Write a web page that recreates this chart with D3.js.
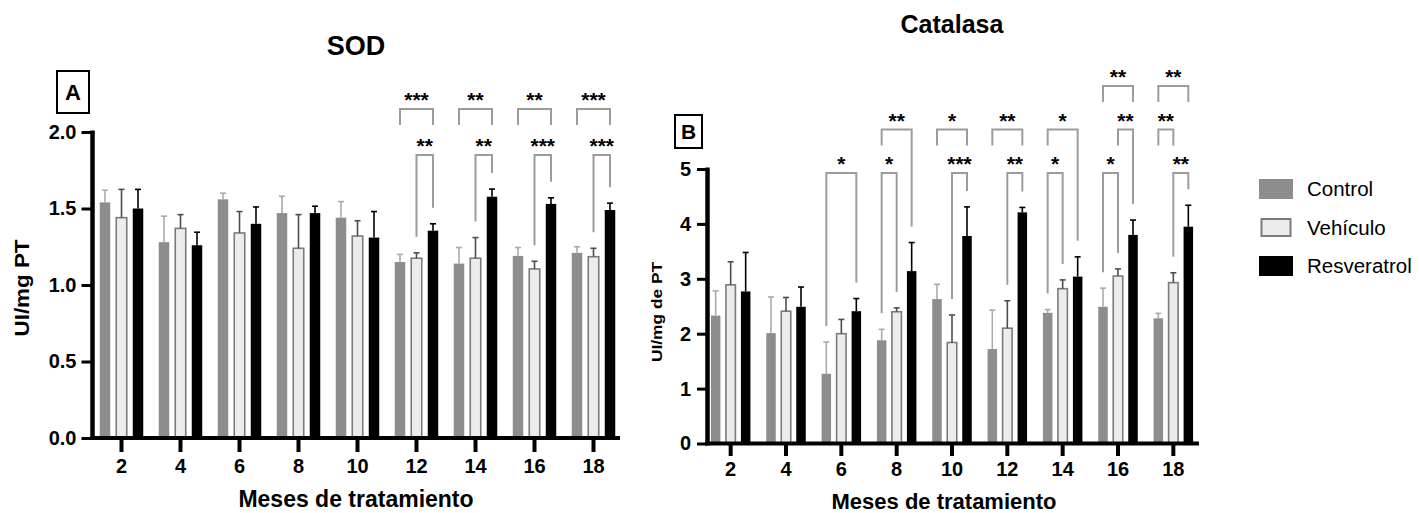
<!DOCTYPE html>
<html>
<head>
<meta charset="utf-8">
<script src="https://cdn.jsdelivr.net/npm/d3@7"></script>
<style>
    html, body { margin: 0; padding: 0; background: #fff; }
    svg { display: block; font-family: 'Liberation Sans', Arial, Helvetica, sans-serif; }
    .axis path, .axis line { stroke: #000; }
    .axis text { font-size: 20px; font-weight: bold; fill: #000; }
</style>
</head>
<body>
<svg id="chart" width="1419" height="513"></svg>
<script>
'use strict';

const months = [2, 4, 6, 8, 10, 12, 14, 16, 18];
const seriesNames = ['Control', 'Vehículo', 'Resveratrol'];

// SOD (UI/mg PT): means and upper error (SEM)
const sodControl = [1.54, 1.28, 1.56, 1.47, 1.44, 1.15, 1.14, 1.19, 1.21];
const sodControlErr = [0.08, 0.17, 0.04, 0.11, 0.105, 0.05, 0.105, 0.055, 0.04];
const sodVehiculo = [1.44, 1.37, 1.34, 1.24, 1.32, 1.175, 1.175, 1.105, 1.185];
const sodVehiculoErr = [0.185, 0.09, 0.14, 0.22, 0.10, 0.035, 0.135, 0.05, 0.055];
const sodResveratrol = [1.50, 1.26, 1.40, 1.47, 1.31, 1.355, 1.577, 1.53, 1.49];
const sodResveratrolErr = [0.125, 0.085, 0.11, 0.045, 0.17, 0.045, 0.05, 0.04, 0.045];

// Catalasa (UI/mg de PT)
const catControl = [2.33, 2.01, 1.27, 1.88, 2.63, 1.72, 2.38, 2.49, 2.28];
const catControlErr = [0.45, 0.66, 0.58, 0.20, 0.27, 0.71, 0.06, 0.34, 0.09];
const catVehiculo = [2.89, 2.41, 2.00, 2.40, 1.84, 2.10, 2.82, 3.05, 2.93];
const catVehiculoErr = [0.42, 0.25, 0.26, 0.07, 0.50, 0.50, 0.16, 0.13, 0.18];
const catResveratrol = [2.77, 2.49, 2.41, 3.14, 3.78, 4.21, 3.04, 3.80, 3.95];
const catResveratrolErr = [0.71, 0.36, 0.23, 0.52, 0.53, 0.09, 0.36, 0.27, 0.39];

const sodTicks = [0, 0.5, 1.0, 1.5, 2.0];
const catTicks = [0, 1, 2, 3, 4, 5];

// significance brackets: [month, from, to, level, label, long left leg, long right leg]
const sodSig = [
    [12, 'Control', 'Resveratrol', 2, '***', 0, 0],
    [12, 'Vehículo', 'Resveratrol', 1, '**', 1, 1],
    [14, 'Control', 'Resveratrol', 2, '**', 0, 0],
    [14, 'Vehículo', 'Resveratrol', 1, '**', 1, 1],
    [16, 'Control', 'Resveratrol', 2, '**', 0, 0],
    [16, 'Vehículo', 'Resveratrol', 1, '***', 1, 1],
    [18, 'Control', 'Resveratrol', 2, '***', 0, 0],
    [18, 'Vehículo', 'Resveratrol', 1, '***', 1, 1]
];
const catSig = [
    [6, 'Control', 'Resveratrol', 1, '*', 1, 1],
    [8, 'Control', 'Vehículo', 1, '*', 1, 1],
    [8, 'Control', 'Resveratrol', 2, '**', 0, 1],
    [10, 'Vehículo', 'Resveratrol', 1, '***', 1, 1],
    [10, 'Control', 'Resveratrol', 2, '*', 0, 0],
    [12, 'Vehículo', 'Resveratrol', 1, '**', 1, 1],
    [12, 'Control', 'Resveratrol', 2, '**', 0, 0],
    [14, 'Control', 'Vehículo', 1, '*', 1, 1],
    [14, 'Control', 'Resveratrol', 2, '*', 0, 1],
    [16, 'Control', 'Vehículo', 1, '*', 1, 1],
    [16, 'Vehículo', 'Resveratrol', 2, '**', 0, 1],
    [16, 'Control', 'Resveratrol', 3, '**', 0, 0],
    [18, 'Vehículo', 'Resveratrol', 1, '**', 1, 1],
    [18, 'Control', 'Vehículo', 2, '**', 0, 0],
    [18, 'Control', 'Resveratrol', 3, '**', 0, 0]
];

const fills = { 'Control': '#8d8d8d', 'Vehículo': '#ececec', 'Resveratrol': '#000' };
const strokes = { 'Control': 'none', 'Vehículo': '#7b7b7b', 'Resveratrol': 'none' };
const errColors = { 'Control': '#ababab', 'Vehículo': '#4d4d4d', 'Resveratrol': '#000' };

let svg = d3.select('#chart');

function drawPanel(p) {
    let g = svg.append('g');

    let x = d3.scaleBand().domain(months).range(p.xRange);
    let xSub = d3.scalePoint().domain(seriesNames).range([-p.step, p.step]);
    let y = d3.scaleLinear().domain(p.yDomain).range(p.yRange);

    let rows = [];
    seriesNames.forEach((s, si) => {
        months.forEach((m, i) => {
            rows.push({ series: s, month: m, value: p.values[si][i], err: p.errors[si][i] });
        });
    });
    let cx = d => x(d.month) + x.bandwidth() / 2 + xSub(d.series);

    // bars
    g.selectAll('.bar')
        .data(rows)
      .enter().append('rect')
        .attr('x', d => cx(d) - p.barW / 2)
        .attr('y', d => y(d.value))
        .attr('width', p.barW)
        .attr('height', d => y(0) - y(d.value))
        .attr('fill', d => fills[d.series])
        .attr('stroke', d => strokes[d.series])
        .attr('stroke-width', 1.6);

    // error bars (upper only)
    let eb = g.selectAll('.err').data(rows).enter().append('g')
        .attr('stroke', d => errColors[d.series])
        .attr('stroke-width', 1.6);
    eb.append('line')
        .attr('x1', cx).attr('x2', cx)
        .attr('y1', d => y(d.value)).attr('y2', d => y(d.value + d.err));
    eb.append('line')
        .attr('x1', d => cx(d) - 3).attr('x2', d => cx(d) + 3)
        .attr('y1', d => y(d.value + d.err)).attr('y2', d => y(d.value + d.err));

    // significance brackets
    let lookup = (s, m) => rows.find(r => r.series === s && r.month === m);
    p.sig.forEach(b => {
        let [m, from, to, level, label, longL, longR] = b;
        let a = lookup(from, m), c = lookup(to, m);
        let by = p.bracketBase - (level - 1) * p.bracketStep;
        let xa = cx(a), xc = cx(c);
        let ya = longL ? y(a.value + a.err) - 16 : by + 16;
        let yc = longR ? y(c.value + c.err) - 16 : by + 16;
        g.append('path')
            .attr('d', `M${xa},${ya}V${by}H${xc}V${yc}`)
            .attr('fill', 'none')
            .attr('stroke', '#9c9c9c')
            .attr('stroke-width', 2);
        g.append('text')
            .attr('x', (xa + xc) / 2)
            .attr('y', by - 2)
            .attr('text-anchor', 'middle')
            .style('font-size', '21px')
            .style('font-weight', 'bold')
            .text(label);
    });

    // axes
    let yAxis = g.append('g')
        .attr('class', 'axis')
        .attr('transform', `translate(${p.axisX},0)`)
        .call(d3.axisLeft(y).tickValues(p.yTicks).tickFormat(p.yFormat)
            .tickSize(p.yTickSize).tickPadding(p.yTickPad).tickSizeOuter(0));
    yAxis.select('.domain').remove();
    yAxis.selectAll('.tick line').attr('stroke-width', 3);
    yAxis.append('line')
        .attr('x1', 0).attr('x2', 0)
        .attr('y1', y(p.yDomain[1]) - 1.5).attr('y2', y(0) + 2)
        .attr('stroke', '#000').attr('stroke-width', 4.5);

    let xAxis = g.append('g')
        .attr('class', 'axis')
        .attr('transform', `translate(0,${y(0)})`)
        .call(d3.axisBottom(x).tickSize(p.xTickSize).tickPadding(p.xTickPad).tickSizeOuter(0));
    xAxis.select('.domain').remove();
    xAxis.selectAll('.tick line').attr('stroke-width', 4);
    xAxis.append('line')
        .attr('x1', p.axisX - 2).attr('x2', p.xAxisEnd)
        .attr('y1', 0).attr('y2', 0)
        .attr('stroke', '#000').attr('stroke-width', 4);

    // titles and labels
    g.append('text')
        .attr('x', p.title[1]).attr('y', p.title[2])
        .attr('text-anchor', 'middle')
        .style('font-size', p.title[3] + 'px').style('font-weight', 'bold')
        .text(p.title[0]);
    g.append('text')
        .attr('x', p.xLabel[1]).attr('y', p.xLabel[2])
        .attr('text-anchor', 'middle')
        .style('font-size', p.xLabel[3] + 'px').style('font-weight', 'bold')
        .text(p.xLabel[0]);
    g.append('text')
        .attr('transform', `translate(${p.yLabel[1]},${p.yLabel[2]}) rotate(-90)`)
        .attr('text-anchor', 'middle')
        .attr('dy', '0.35em')
        .attr('textLength', p.yLabel[4])
        .attr('lengthAdjust', 'spacingAndGlyphs')
        .style('font-size', p.yLabel[3] + 'px').style('font-weight', 'bold')
        .text(p.yLabel[0]);

    // panel letter box
    let bx = p.letterBox;
    g.append('rect')
        .attr('x', bx[1]).attr('y', bx[2]).attr('width', bx[3]).attr('height', bx[4])
        .attr('fill', '#fff').attr('stroke', '#000').attr('stroke-width', 2);
    g.append('text')
        .attr('x', bx[1] + bx[3] / 2).attr('y', bx[2] + bx[4] / 2)
        .attr('dy', '0.36em')
        .attr('text-anchor', 'middle')
        .style('font-size', bx[5] + 'px').style('font-weight', 'bold')
        .text(bx[0]);
}

drawPanel({
    values: [sodControl, sodVehiculo, sodResveratrol],
    errors: [sodControlErr, sodVehiculoErr, sodResveratrolErr],
    sig: sodSig,
    xRange: [92, 623], step: 16.5, barW: 10.5,
    yDomain: [0, 2], yRange: [438, 132], yTicks: sodTicks, yFormat: d3.format('.1f'),
    axisX: 92.5, xAxisEnd: 620,
    yTickSize: 11, yTickPad: 5, xTickSize: 14, xTickPad: 7,
    bracketBase: 155, bracketStep: 46,
    title: ['SOD', 356, 55, 27],
    xLabel: ['Meses de tratamiento', 356, 507, 23],
    yLabel: ['UI/mg PT', 22, 288, 21, 97],
    letterBox: ['A', 57, 71, 32, 42, 22]
});

drawPanel({
    values: [catControl, catVehiculo, catResveratrol],
    errors: [catControlErr, catVehiculoErr, catResveratrolErr],
    sig: catSig,
    xRange: [703, 1201], step: 15, barW: 9.5,
    yDomain: [0, 5], yRange: [443.5, 169], yTicks: catTicks, yFormat: d3.format('d'),
    axisX: 707.5, xAxisEnd: 1199,
    yTickSize: 10.5, yTickPad: 6, xTickSize: 12.5, xTickPad: 6,
    bracketBase: 173, bracketStep: 43.5,
    title: ['Catalasa', 952, 33, 25],
    xLabel: ['Meses de tratamiento', 944, 509, 22],
    yLabel: ['UI/mg de PT', 657, 312, 14, 100],
    letterBox: ['B', 675, 115, 27, 33, 21]
});

// legend
let legend = svg.append('g').attr('transform', 'translate(1259,179)');
seriesNames.forEach((s, i) => {
    let ly = i * 38.5;
    if (s === 'Vehículo') {
        legend.append('rect')
            .attr('x', 2.5).attr('y', ly + 1.5).attr('width', 29).attr('height', 17)
            .attr('fill', fills[s]).attr('stroke', strokes[s]).attr('stroke-width', 2);
    } else {
        legend.append('rect')
            .attr('x', 0).attr('y', ly).attr('width', 34).attr('height', 20)
            .attr('fill', fills[s]);
    }
    legend.append('text')
        .attr('x', 48).attr('y', ly + 10)
        .attr('dy', '0.36em')
        .style('font-size', '20.5px')
        .text(s);
});
</script>
</body>
</html>
